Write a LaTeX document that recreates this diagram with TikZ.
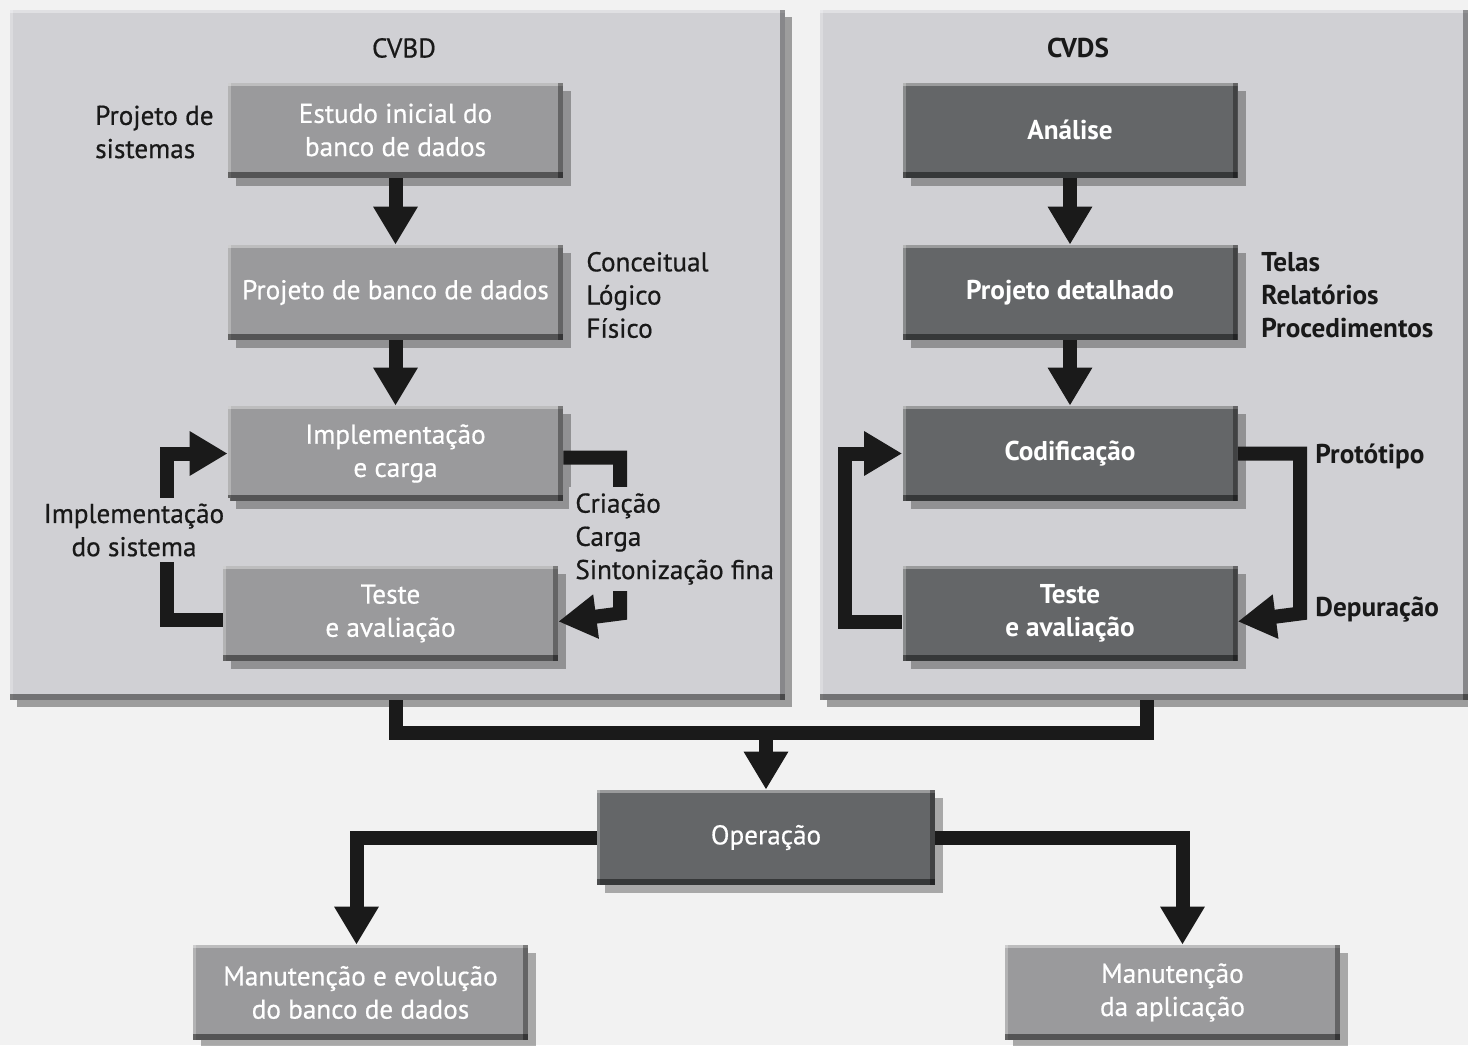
\documentclass[tikz,border=0pt]{standalone}
\usepackage{fontspec}
\setmainfont{PT Sans}[FakeBold=0.6]
\newfontfamily\boldish{PT Sans Bold}
\usetikzlibrary{arrows.meta,shadows,calc}
\definecolor{bgc}{HTML}{F2F2F2}
\definecolor{panelc}{HTML}{D0D0D4}
\definecolor{lboxc}{HTML}{9A9A9C}
\definecolor{dboxc}{HTML}{646668}
\definecolor{arrc}{HTML}{1A1A1A}
\begin{document}
\begin{tikzpicture}[x=0.5pt,y=-0.5pt,
  font=\fontsize{13.6}{16.6}\selectfont,
  bevel/.style={path picture={
     \fill[white,opacity=0.35] (path picture bounding box.north west) rectangle ([yshift=-1.5pt]path picture bounding box.north east);
     \fill[white,opacity=0.25] (path picture bounding box.north west) rectangle ([xshift=1.5pt]path picture bounding box.south west);
     \fill[black,opacity=0.45] (path picture bounding box.south west) rectangle ([yshift=3pt]path picture bounding box.south east);
     \fill[black,opacity=0.35] (path picture bounding box.south east) rectangle ([xshift=-2.5pt]path picture bounding box.north east);}},
  panel/.style={rectangle, draw=none, fill=panelc, inner sep=0pt, bevel,
     drop shadow={shadow xshift=3.5pt, shadow yshift=-3.5pt, opacity=0.35, fill=black}},
  boxbase/.style={rectangle, inner sep=0pt, minimum width=167.5pt, minimum height=47.5pt,
     align=center, text=white, bevel,
     drop shadow={shadow xshift=4pt, shadow yshift=-4pt, opacity=0.3, fill=black}},
  lbox/.style={boxbase, fill=lboxc},
  dbox/.style={boxbase, fill=dboxc},
  bfx/.style={font=\fontsize{13.6}{16.6}\selectfont\boldish},
  conn/.style={line width=7pt, draw=arrc},
  arr/.style={conn, -{Triangle[width=21pt,length=19pt]}},
  lbl/.style={align=left, inner sep=2pt, text=black!90},
  gaplbl/.style={lbl, fill=panelc, inner sep=3pt}]
\useasboundingbox (0,0) rectangle (1468,1045);
\fill[bgc] (0,0) rectangle (1468,1045);

% panels
\node[panel, minimum width=387.5pt, minimum height=345pt] (p1) at (397.5,355) {};
\node[panel, minimum width=324pt, minimum height=345pt] (p2) at (1144,355) {};
\node[lbl] (t1) at (404,48) {CVBD};
\node[lbl, bfx] (t2) at (1078,48) {CVDS};

% coordinates for bends
\coordinate (lc) at (167,0);
\coordinate (rc) at (620,0);
\coordinate (lc2) at (845,0);
\coordinate (rc2) at (1300,0);
\coordinate (jn) at (766,733);
\coordinate (jl) at (396,733);
\coordinate (jr) at (1147,733);

% boxes
\node[lbox] (e1) at (395.5,130) {Estudo inicial do\\banco de dados};
\node[lbox] (e2) at (395.5,292.5) {Projeto de banco de dados};
\node[lbox] (e3) at (395.5,453.5) {Implementação\\e carga};
\node[lbox] (e4) at (390.5,613.5) {Teste\\e avaliação};
\node[dbox, bfx] (d1) at (1070,130) {Análise};
\node[dbox, bfx] (d2) at (1070,292.5) {Projeto detalhado};
\node[dbox, bfx] (d3) at (1070,453.5) {Codificação};
\node[dbox, bfx] (d4) at (1070,613.5) {Teste\\e avaliação};
\node[dbox, minimum width=169pt] (op) at (766,837.5) {Operação};
\node[lbox] (m1) at (360.5,992.5) {Manutenção e evolução\\do banco de dados};
\node[lbox] (m2) at (1172.5,992.5) {Manutenção\\da aplicação};

% connectors
\draw[arr] (e1) -- (e2);
\draw[arr] (e2) -- (e3);
\draw[arr] (d1) -- (d2);
\draw[arr] (d2) -- (d3);
\draw[arr] ([yshift=-3pt]e4.west) -| (lc |- e3.west) -- (e3.west);
\draw[arr] ([yshift=-2pt]e3.east) -| (rc |- e4.east) -- ([yshift=-4pt]e4.east);
\draw[arr] ([yshift=-4pt]d4.west) -| (lc2 |- d3.west) -- (d3.west);
\draw[arr] (d3.east) -| (rc2 |- d4.east) -- ([yshift=-4pt]d4.east);
\draw[conn] (p1.south -| jl) -- (jl) -- (jr) -- (p2.south -| jr);
\draw[arr] (jn) -- (op.north);
\draw[arr] (op.west) -| ([xshift=-2pt]m1.north);
\draw[arr] (op.east) -| ([xshift=5pt]m2.north);

% labels
\node[lbl, anchor=east] (l1) at (218,132) {Projeto de\\sistemas};
\node[lbl, anchor=west] (l2) at (582,295) {Conceitual\\Lógico\\Físico};
\node[gaplbl, align=center] (l3) at (134,530) {Implementação\\do sistema};
\node[gaplbl, anchor=west] (l4) at (569,539) {Criação\\Carga\\Sintonização fina};
\node[lbl, bfx, anchor=west] (l5) at (1257,295) {Telas\\Relatórios\\Procedimentos};
\node[lbl, bfx, anchor=west] (l6) at (1311,456) {Protótipo};
\node[lbl, bfx, anchor=west] (l7) at (1311,610) {Depuração};
\end{tikzpicture}
\end{document}
